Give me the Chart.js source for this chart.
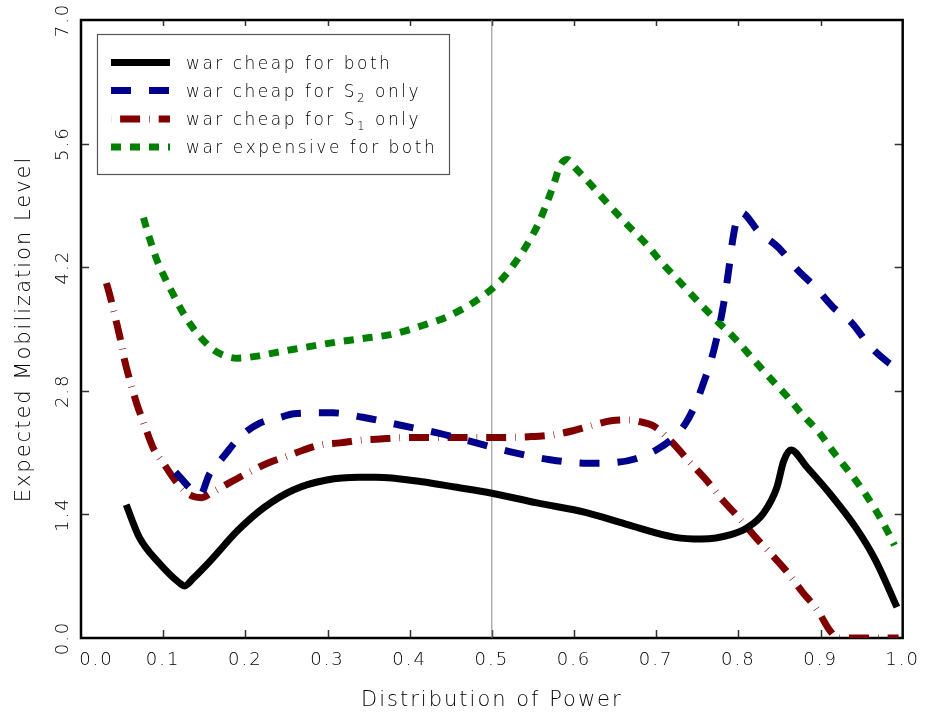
<!DOCTYPE html>
<html><head><meta charset="utf-8">
<script src="https://cdn.jsdelivr.net/npm/chart.js@4/dist/chart.umd.min.js"></script>
<style>html,body{margin:0;padding:0;background:#fff}#wrap{width:932px;height:713px}</style>
</head><body><div id="wrap"><canvas id="c" width="932" height="713"></canvas></div>
<script>
const xTickValues = [0, 0.1, 0.2, 0.3, 0.4, 0.5, 0.6, 0.7, 0.8, 0.9, 1.0];
const xTickLabels = ['0.0', '0.1', '0.2', '0.3', '0.4', '0.5', '0.6', '0.7', '0.8', '0.9', '1.0'];
const yTickValues = [0, 1.4, 2.8, 4.2, 5.6, 7.0];
const yTickLabels = ['0.0', '1.4', '2.8', '4.2', '5.6', '7.0'];
const xTitle = 'Distribution of Power';
const yTitle = 'Expected Mobilization Level';
const seriesNames = ['war cheap for both', 'war cheap for S\u2082 only', 'war cheap for S\u2081 only', 'war expensive for both'];
const referenceX = [0.5, 0.5];
const referenceY = [0, 7];

const bothCheapX = [0.055, 0.071, 0.095, 0.119, 0.126, 0.137, 0.158, 0.191, 0.223, 0.259, 0.299, 0.339, 0.359, 0.415, 0.455, 0.5, 0.555, 0.615, 0.663, 0.723, 0.755, 0.791, 0.811, 0.831, 0.847, 0.855, 0.864, 0.883, 0.911, 0.943, 0.967, 0.993];
const bothCheapY = [1.51, 1.14, 0.85, 0.63, 0.59, 0.68, 0.88, 1.22, 1.48, 1.68, 1.79, 1.82, 1.82, 1.77, 1.71, 1.64, 1.53, 1.42, 1.29, 1.14, 1.12, 1.17, 1.25, 1.42, 1.71, 2.0, 2.13, 1.94, 1.64, 1.25, 0.88, 0.35];

const s2CheapX = [0.115, 0.137, 0.145, 0.156, 0.173, 0.194, 0.217, 0.243, 0.259, 0.29, 0.307, 0.343, 0.389, 0.435, 0.481, 0.527, 0.571, 0.617, 0.653, 0.675, 0.70, 0.72, 0.735, 0.748, 0.758, 0.767, 0.775, 0.782, 0.788, 0.793, 0.797, 0.803, 0.825, 0.849, 0.872, 0.893, 0.915, 0.938, 0.959, 0.981, 0.99];
const s2CheapY = [1.88, 1.66, 1.62, 1.85, 2.05, 2.28, 2.43, 2.50, 2.54, 2.55, 2.55, 2.50, 2.41, 2.32, 2.21, 2.10, 2.02, 1.98, 1.99, 2.03, 2.13, 2.26, 2.42, 2.65, 2.90, 3.15, 3.45, 3.78, 4.15, 4.50, 4.70, 4.82, 4.60, 4.42, 4.17, 3.98, 3.75, 3.57, 3.32, 3.13, 3.07];

const s1CheapX = [0.031, 0.036, 0.042, 0.048, 0.053, 0.060, 0.068, 0.077, 0.088, 0.101, 0.115, 0.128, 0.138, 0.147, 0.158, 0.181, 0.203, 0.227, 0.248, 0.271, 0.293, 0.315, 0.339, 0.359, 0.395, 0.45, 0.5, 0.545, 0.573, 0.6, 0.623, 0.645, 0.665, 0.68, 0.697, 0.719, 0.741, 0.761, 0.781, 0.8, 0.821, 0.841, 0.86, 0.878, 0.896, 0.911, 0.921, 0.96, 0.995];
const s1CheapY = [4.02, 3.85, 3.62, 3.38, 3.15, 2.90, 2.65, 2.42, 2.15, 1.97, 1.78, 1.65, 1.60, 1.59, 1.64, 1.76, 1.87, 1.98, 2.05, 2.13, 2.19, 2.21, 2.24, 2.25, 2.27, 2.27, 2.27, 2.28, 2.30, 2.35, 2.41, 2.46, 2.47, 2.45, 2.40, 2.22, 1.99, 1.79, 1.56, 1.37, 1.14, 0.94, 0.74, 0.52, 0.32, 0.09, 0, 0, 0];

const expensiveX = [0.076, 0.084, 0.092, 0.102, 0.114, 0.127, 0.145, 0.167, 0.191, 0.212, 0.235, 0.259, 0.303, 0.349, 0.373, 0.395, 0.419, 0.441, 0.465, 0.487, 0.51, 0.529, 0.545, 0.557, 0.567, 0.575, 0.583, 0.592, 0.601, 0.623, 0.643, 0.665, 0.687, 0.707, 0.729, 0.751, 0.773, 0.795, 0.817, 0.837, 0.86, 0.877, 0.899, 0.917, 0.935, 0.951, 0.967, 0.981, 0.99];
const expensiveY = [4.76, 4.51, 4.29, 4.08, 3.86, 3.64, 3.41, 3.23, 3.17, 3.19, 3.23, 3.27, 3.34, 3.40, 3.43, 3.48, 3.55, 3.62, 3.73, 3.86, 4.04, 4.26, 4.49, 4.70, 4.93, 5.13, 5.35, 5.42, 5.33, 5.11, 4.90, 4.68, 4.47, 4.25, 4.03, 3.81, 3.60, 3.40, 3.17, 2.96, 2.73, 2.54, 2.32, 2.09, 1.88, 1.68, 1.45, 1.22, 1.05];

const FONT = "'DejaVu Sans Light', 'DejaVu Sans ExtraLight', 'DejaVu Sans', sans-serif";
const pts = (xs, ys) => xs.map((x, i) => ({x, y: ys[i]}));

const series = [
  {label: seriesNames[0], data: pts(bothCheapX, bothCheapY), borderColor: '#000000', borderWidth: 7, borderDash: []},
  {label: seriesNames[1], data: pts(s2CheapX, s2CheapY), borderColor: '#00008c', borderWidth: 7, borderDash: [20, 18]},
  {label: seriesNames[2], data: pts(s1CheapX, s1CheapY), borderColor: '#800000', borderWidth: 7, borderDash: [20, 9, 0.6, 9]},
  {label: seriesNames[3], data: pts(expensiveX, expensiveY), borderColor: '#008000', borderWidth: 7, borderDash: [10, 9]}
];

const datasets = series.map(s => ({
  label: s.label, data: s.data, borderColor: s.borderColor, borderWidth: s.borderWidth,
  borderDash: s.borderDash, borderCapStyle: 'butt', borderJoinStyle: 'round',
  pointRadius: 0, fill: false, cubicInterpolationMode: 'monotone'
}));
datasets.push({label: 'split', data: pts(referenceX, referenceY), borderColor: '#8a8a8a', borderWidth: 1, pointRadius: 0, fill: false});

const spacingPlugin = {
  id: 'spacing',
  beforeUpdate(chart) { chart.ctx.letterSpacing = '2px'; },
  beforeLayout(chart) { chart.ctx.letterSpacing = '2px'; },
  beforeDraw(chart) { chart.ctx.letterSpacing = '2px'; }
};

const framePlugin = {
  id: 'frame',
  beforeDatasetsDraw(chart) {
    const {ctx, chartArea: a, scales: {x, y}} = chart;
    ctx.save();
    ctx.strokeStyle = '#333';
    ctx.lineWidth = 1.5;
    ctx.beginPath();
    xTickValues.forEach(v => {
      if (v === 0 || v === 1) return;
      const px = Math.round(x.getPixelForValue(v)) + 0.5;
      ctx.moveTo(px, a.bottom); ctx.lineTo(px, a.bottom - 8);
      ctx.moveTo(px, a.top); ctx.lineTo(px, a.top + 6);
    });
    yTickValues.forEach(v => {
      if (v === 0 || v === 7) return;
      const py = Math.round(y.getPixelForValue(v)) + 0.5;
      ctx.moveTo(a.left, py); ctx.lineTo(a.left + 8, py);
      ctx.moveTo(a.right, py); ctx.lineTo(a.right - 8, py);
    });
    ctx.stroke();
    ctx.strokeStyle = '#000';
    ctx.lineWidth = 2.5;
    ctx.strokeRect(a.left, a.top, a.right - a.left, a.bottom - a.top);
    ctx.restore();
  },
  afterDatasetsDraw(chart) {
    const ctx = chart.ctx;
    ctx.save();
    const bx = 97, by = 34, bw = 352, bh = 140;
    ctx.fillStyle = '#fff';
    ctx.fillRect(bx, by, bw, bh);
    ctx.strokeStyle = '#555';
    ctx.lineWidth = 1.2;
    ctx.strokeRect(bx + 0.5, by + 0.5, bw, bh);
    const rows = [62.5, 90.5, 119, 147];
    series.forEach((s, i) => {
      const yc = rows[i];
      ctx.save();
      ctx.strokeStyle = s.borderColor;
      ctx.lineWidth = s.borderWidth;
      ctx.lineCap = 'butt';
      ctx.setLineDash(s.borderDash);
      ctx.lineDashOffset = (i === 2) ? 29.5 : 0;
      ctx.beginPath();
      ctx.moveTo(111, yc); ctx.lineTo(170, yc);
      ctx.stroke();
      ctx.restore();
      ctx.fillStyle = '#000';
      ctx.textBaseline = 'alphabetic';
      ctx.textAlign = 'left';
      ctx.letterSpacing = '2.5px';
      let tx = 186;
      const base = yc + 6;
      for (const ch of s.label) {
        const code = ch.charCodeAt(0);
        if (code >= 0x2080 && code <= 0x2089) {
          ctx.font = `200 12px ${FONT}`;
          const d = String(code - 0x2080);
          ctx.fillText(d, tx, base + 5);
          tx += ctx.measureText(d).width;
        } else {
          ctx.font = `200 17px ${FONT}`;
          ctx.fillText(ch, tx, base);
          tx += ctx.measureText(ch).width;
        }
      }
    });
    ctx.restore();
  }
};

new Chart(document.getElementById('c'), {
  type: 'line',
  data: {datasets},
  plugins: [spacingPlugin, framePlugin],
  options: {
    responsive: false,
    animation: false,
    layout: {padding: {top: 20, right: 18, left: 0, bottom: 0}},
    plugins: {legend: {display: false}, tooltip: {enabled: false}},
    scales: {
      x: {
        type: 'linear', min: 0, max: 1,
        afterBuildTicks: s => { s.ticks = xTickValues.map(v => ({value: v})); },
        afterFit: s => { s.height = 75; },
        grid: {display: false, drawTicks: false},
        border: {display: false},
        ticks: {
          autoSkip: false, minRotation: 0, maxRotation: 0, padding: 12, color: '#000',
          font: {family: FONT, size: 18, weight: 200},
          callback: (v, i) => i === 0 ? '    ' + xTickLabels[i] : xTickLabels[i]
        },
        title: {display: true, text: xTitle, color: '#000', font: {family: FONT, size: 21, weight: 200}, padding: {top: 0, bottom: 0}}
      },
      y: {
        type: 'linear', min: 0, max: 7,
        afterBuildTicks: s => { s.ticks = yTickValues.map(v => ({value: v})); },
        afterFit: s => { s.width = 81; },
        grid: {display: false, drawTicks: false},
        border: {display: false},
        ticks: {
          autoSkip: false, minRotation: 90, maxRotation: 90, crossAlign: 'center', padding: 0, color: '#000',
          font: {family: FONT, size: 18, weight: 200},
          callback: (v, i) => yTickLabels[i]
        },
        title: {display: true, text: yTitle, color: '#000', font: {family: FONT, size: 21, weight: 200}, padding: {top: 12, bottom: 0}}
      }
    }
  }
});
</script>
</body></html>
